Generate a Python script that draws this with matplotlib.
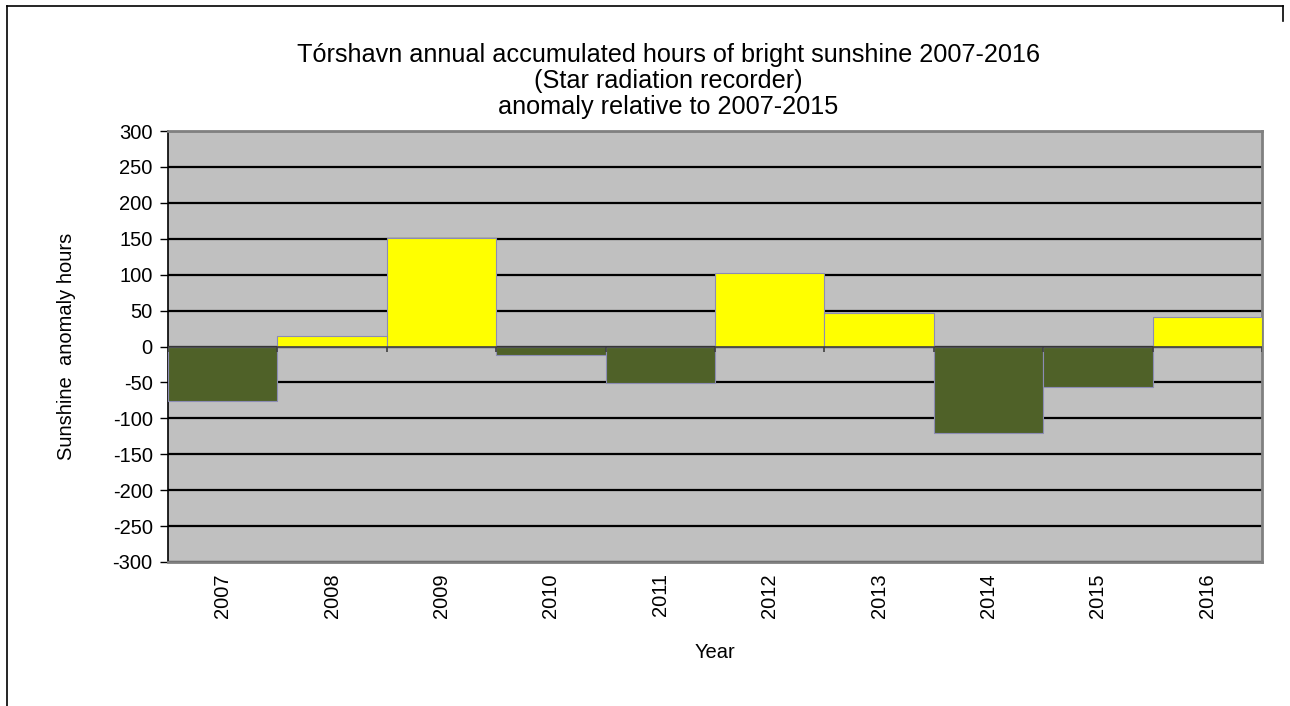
import numpy as np
import matplotlib.pyplot as plt
from matplotlib.lines import Line2D

years = ["2007", "2008", "2009", "2010", "2011", "2012", "2013", "2014", "2015", "2016"]
anomaly = [-76, 14, 151, -12, -51, 103, 47, -120, -56, 41]
yticks = np.arange(-300, 301, 50)

plt.rcParams["font.family"] = ["Liberation Sans", "DejaVu Sans"]

fig = plt.figure(figsize=(12.9, 7.06), dpi=100)
ax = fig.add_axes([0.1302, 0.204, 0.8481, 0.6104])
ax.set_facecolor("#C0C0C0")

x = np.arange(len(years))
vals = np.array(anomaly)
colors = np.where(vals >= 0, "#FFFF00", "#4F6128")
ax.bar(x, vals, width=1.0, color=colors, edgecolor="#8C8CB4", linewidth=0.8, zorder=3)

ax.set_xlim(-0.5, len(years) - 0.5)
ax.set_ylim(-300, 300)
ax.set_yticks(yticks)
ax.set_yticklabels([str(v) for v in yticks], fontsize=14.5)
ax.yaxis.grid(True, color="black", linewidth=1.6, zorder=1)
ax.set_axisbelow(True)
ax.tick_params(axis="y", direction="out", length=6, width=1, pad=5)

ax.set_xticks(x)
ax.set_xticklabels(years, rotation=90, fontsize=14.5)
ax.tick_params(axis="x", length=0, pad=8)

# category axis at zero with tick marks on category boundaries
ax.axhline(0, color="#404040", linewidth=1.2, zorder=4)
ax.vlines(np.arange(len(years) + 1) - 0.5, -8, 0, color="#404040", linewidth=1.2, zorder=4)

ax.spines["left"].set_color("black")
ax.spines["left"].set_linewidth(1.2)
for s in ["top", "right", "bottom"]:
    ax.spines[s].set_color("#808080")
    ax.spines[s].set_linewidth(2.0)

ax.set_ylabel("Sunshine  anomaly hours", fontsize=14.5, labelpad=26)
ax.set_xlabel("Year", fontsize=14.5, labelpad=18)

fig.text(0.518, 0.885,
         "Tórshavn annual accumulated hours of bright sunshine 2007-2016\n"
         "(Star radiation recorder)\n"
         "anomaly relative to 2007-2015",
         ha="center", va="center", fontsize=18.2, linespacing=1.1)

# outer chart frame
fig.add_artist(Line2D([0.0055, 0.0055], [0.0, 0.9915], color="black", linewidth=1.2, transform=fig.transFigure))
fig.add_artist(Line2D([0.0055, 0.9945], [0.9915, 0.9915], color="black", linewidth=1.2, transform=fig.transFigure))
fig.add_artist(Line2D([0.9945, 0.9945], [0.9915, 0.97], color="black", linewidth=1.2, transform=fig.transFigure))

fig.savefig("out.png", dpi=100)
